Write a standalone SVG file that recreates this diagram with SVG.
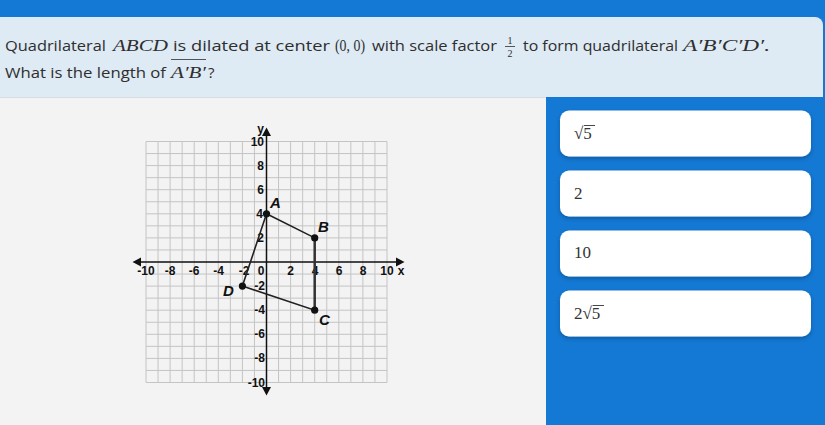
<svg xmlns="http://www.w3.org/2000/svg" width="825" height="425" viewBox="0 0 825 425">
<defs>
<style>
.q{font-family:"Open Sans","Liberation Sans",sans-serif;font-size:15px;fill:#2e2e2e;font-weight:500}
.m{font-family:"Liberation Serif","DejaVu Serif",serif;font-size:17px;fill:#2e2e2e}
.mi{font-style:italic}
.fr{font-family:"Liberation Serif","DejaVu Serif",serif;font-size:10px;fill:#2e2e2e}
.ax{font-family:"Liberation Sans",Arial,sans-serif;font-size:12px;font-weight:bold;fill:#111}
.pt{font-family:"Liberation Sans",Arial,sans-serif;font-size:15px;font-weight:bold;font-style:italic;fill:#111}
.ans{font-family:"Liberation Serif","DejaVu Serif",serif;font-size:17px;fill:#333}
.card{fill:#ffffff}
.grid{stroke:#c4c4c4;stroke-width:1;fill:none}
.axis{stroke:#111;stroke-width:1.5;fill:none}
.edge{stroke:#222;stroke-width:1.6;fill:none}
</style>
<filter id="sh" x="-5%" y="-20%" width="110%" height="150%">
<feDropShadow dx="0" dy="2" stdDeviation="2" flood-color="#0a3560" flood-opacity="0.45"/>
</filter>
</defs>
<rect x="0" y="0" width="825" height="425" fill="#1479d4"/>
<path d="M0 17 H815 A8 8 0 0 1 823 25 V97 H0 Z" fill="#deeaf4"/>
<rect x="0" y="97" width="546" height="328" fill="#f3f3f3"/>
<line x1="0" y1="97.5" x2="546" y2="97.5" stroke="#d6dde3" stroke-width="1"/>

<g id="question">
<text class="q" x="5" y="51" textLength="101" lengthAdjust="spacingAndGlyphs">Quadrilateral</text>
<text class="m mi" x="113" y="51" textLength="55" lengthAdjust="spacingAndGlyphs">ABCD</text>
<text class="q" x="173" y="51" textLength="157" lengthAdjust="spacingAndGlyphs">is dilated at center</text>
<text class="m" x="335" y="51" textLength="30" lengthAdjust="spacingAndGlyphs">(0, 0)</text>
<text class="q" x="372" y="51" textLength="125" lengthAdjust="spacingAndGlyphs">with scale factor</text>
<text class="fr" x="510" y="44" text-anchor="middle">1</text>
<line x1="505" y1="46.5" x2="515" y2="46.5" stroke="#2e2e2e" stroke-width="0.8"/>
<text class="fr" x="510" y="57" text-anchor="middle">2</text>
<text class="q" x="523" y="51" textLength="155" lengthAdjust="spacingAndGlyphs">to form quadrilateral</text>
<text class="m mi" x="683" y="51" textLength="87" lengthAdjust="spacingAndGlyphs">A′B′C′D′.</text>
<text class="q" x="5" y="78" textLength="161" lengthAdjust="spacingAndGlyphs">What is the length of</text>
<line x1="171" y1="59.5" x2="206" y2="59.5" stroke="#2e2e2e" stroke-width="0.8"/>
<text class="m mi" x="171" y="78" textLength="35" lengthAdjust="spacingAndGlyphs">A′B′</text>
<text class="q" x="208" y="78">?</text>
</g>

<g id="graph">
<path class="grid" d="M146 141.5V382.5M158.05 141.5V382.5M170.1 141.5V382.5M182.15 141.5V382.5M194.2 141.5V382.5M206.25 141.5V382.5M218.3 141.5V382.5M230.35 141.5V382.5M242.4 141.5V382.5M254.45 141.5V382.5M278.55 141.5V382.5M290.6 141.5V382.5M302.65 141.5V382.5M314.7 141.5V382.5M326.75 141.5V382.5M338.8 141.5V382.5M350.85 141.5V382.5M362.9 141.5V382.5M374.95 141.5V382.5M387 141.5V382.5M146 141.5H387M146 153.55H387M146 165.6H387M146 177.65H387M146 189.7H387M146 201.75H387M146 213.8H387M146 225.85H387M146 237.9H387M146 249.95H387M146 274.05H387M146 286.1H387M146 298.15H387M146 310.2H387M146 322.25H387M146 334.3H387M146 346.35H387M146 358.4H387M146 370.45H387M146 382.5H387"/>
<path class="axis" d="M138 262H399M266.5 133V390"/>
<path d="M132.5 262L141 257.5V266.5Z M404.5 262L396 257.5V266.5Z M266.5 127.5L262 136H271Z M266.5 395.5L262 387H271Z" fill="#111"/>
<g class="ax" text-anchor="middle">
<text x="146" y="275">-10</text>
<text x="170" y="275">-8</text>
<text x="194" y="275">-6</text>
<text x="218.5" y="275">-4</text>
<text x="244" y="275">-2</text>
<text x="261" y="275">0</text>
<text x="290.6" y="275">2</text>
<text x="315" y="275">4</text>
<text x="339" y="275">6</text>
<text x="363" y="275">8</text>
<text x="387" y="275">10</text>
<text x="401" y="275">x</text>
</g>
<g class="ax" text-anchor="end">
<text x="264" y="133">y</text>
<text x="264" y="146">10</text>
<text x="264" y="170">8</text>
<text x="264" y="194">6</text>
<text x="263" y="218">4</text>
<text x="264" y="242">2</text>
<text x="265" y="290">-2</text>
<text x="265" y="314">-4</text>
<text x="265" y="338">-6</text>
<text x="265" y="362">-8</text>
<text x="265" y="386.5">-10</text>
</g>
</g>

<g id="quadrilateral">
<path class="edge" d="M266.5 213.8L314.7 237.9L314.7 310.2L242.4 286.1Z"/>
<line x1="314.7" y1="237.9" x2="314.7" y2="310.2" stroke="#333" stroke-width="2.4"/>
</g>
<g id="A"><circle cx="266.5" cy="213.8" r="3.6" fill="#111"/><text class="pt" x="270" y="208">A</text></g>
<g id="B"><circle cx="314.7" cy="237.9" r="3.6" fill="#111"/><text class="pt" x="318" y="232">B</text></g>
<g id="C"><circle cx="314.7" cy="310.2" r="3.6" fill="#111"/><text class="pt" x="319" y="325">C</text></g>
<g id="D"><circle cx="242.4" cy="286.1" r="3.6" fill="#111"/><text class="pt" x="223" y="296">D</text></g>

<g id="choice1">
<rect class="card" x="560" y="110.5" width="251" height="46" rx="9" filter="url(#sh)"/>
<text class="ans" x="574" y="139">√5</text>
<line x1="584" y1="125.5" x2="595" y2="125.5" stroke="#333" stroke-width="0.9"/>
</g>
<g id="choice2">
<rect class="card" x="560" y="170.5" width="251" height="46" rx="9" filter="url(#sh)"/>
<text class="ans" x="574" y="199">2</text>
</g>
<g id="choice3">
<rect class="card" x="560" y="230.5" width="251" height="46" rx="9" filter="url(#sh)"/>
<text class="ans" x="574" y="258">10</text>
</g>
<g id="choice4">
<rect class="card" x="560" y="290.5" width="251" height="46" rx="9" filter="url(#sh)"/>
<text class="ans" x="574" y="319">2√5</text>
<line x1="592.5" y1="305.5" x2="604" y2="305.5" stroke="#333" stroke-width="0.9"/>
</g>
</svg>
